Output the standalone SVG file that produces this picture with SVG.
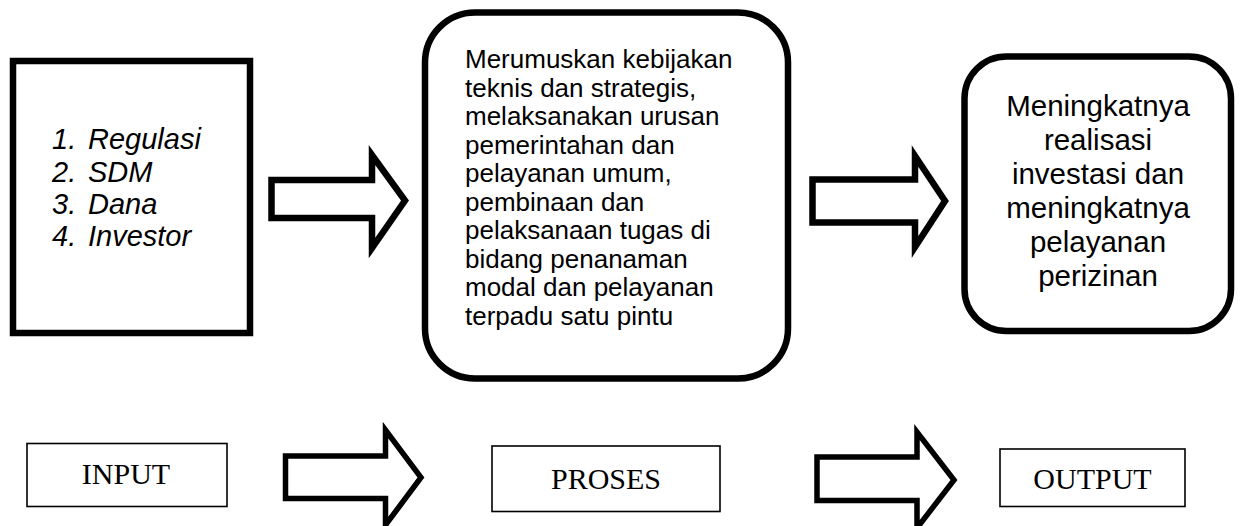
<svg xmlns="http://www.w3.org/2000/svg" width="1242" height="526" viewBox="0 0 1242 526">
  <style>
    .bold-box { fill: #fff; stroke: #000; stroke-width: 6.5; }
    .thin-box { fill: #fff; stroke: #000; stroke-width: 1.6; }
    .block-arrow { fill: #fff; stroke: #000; stroke-width: 6.5; stroke-linejoin: miter; stroke-miterlimit: 10; }
    .low-arrow { fill: #fff; stroke: #000; stroke-width: 5.5; stroke-linejoin: miter; stroke-miterlimit: 10; }
    .sans { font-family: "Liberation Sans", Arial, sans-serif; fill: #000; }
    .serif { font-family: "Liberation Serif", "Times New Roman", serif; fill: #000; font-size: 30px; }
  </style>

  <rect width="1242" height="526" fill="#fff"/>

  <g id="input-box">
    <rect class="bold-box" x="13" y="61" width="237" height="272"/>
    <g class="sans" font-size="29" font-style="italic">
      <text x="52" y="149">1.</text><text x="88" y="149">Regulasi</text>
      <text x="52" y="181.5">2.</text><text x="88" y="181.5">SDM</text>
      <text x="52" y="214">3.</text><text x="88" y="214">Dana</text>
      <text x="52" y="246">4.</text><text x="88" y="246">Investor</text>
    </g>
  </g>

  <g id="process-box">
    <rect class="bold-box" x="425" y="12.5" width="363" height="366" rx="50" ry="50"/>
    <g class="sans" font-size="26">
      <text x="465" y="68">Merumuskan kebijakan</text>
      <text x="465" y="96.5">teknis dan strategis,</text>
      <text x="465" y="125">melaksanakan urusan</text>
      <text x="465" y="153.5">pemerintahan dan</text>
      <text x="465" y="182">pelayanan umum,</text>
      <text x="465" y="210.5">pembinaan dan</text>
      <text x="465" y="239">pelaksanaan tugas di</text>
      <text x="465" y="267.5">bidang penanaman</text>
      <text x="465" y="296">modal dan pelayanan</text>
      <text x="465" y="324.5">terpadu satu pintu</text>
    </g>
  </g>

  <g id="output-box">
    <rect class="bold-box" x="964.5" y="56.5" width="266.5" height="274.5" rx="42" ry="42"/>
    <g class="sans" font-size="29.5" text-anchor="middle">
      <text x="1098" y="116">Meningkatnya</text>
      <text x="1098" y="150">realisasi</text>
      <text x="1098" y="184">investasi dan</text>
      <text x="1098" y="218">meningkatnya</text>
      <text x="1098" y="252">pelayanan</text>
      <text x="1098" y="286">perizinan</text>
    </g>
  </g>

  <g id="label-input">
    <rect class="thin-box" x="27" y="443.5" width="200" height="63"/>
    <text class="serif" x="126" y="483.5" text-anchor="middle">INPUT</text>
  </g>

  <g id="label-proses">
    <rect class="thin-box" x="492" y="446" width="228" height="65.5"/>
    <text class="serif" x="606" y="488.5" text-anchor="middle">PROSES</text>
  </g>

  <g id="label-output">
    <rect class="thin-box" x="1000" y="449" width="185" height="57.5"/>
    <text class="serif" x="1092.5" y="489" text-anchor="middle">OUTPUT</text>
  </g>

  <g id="connectors">
    <polygon class="block-arrow" points="271.5,180 372,180 372,155 405,200.5 372,248 372,218 271.5,218"/>
    <polygon class="block-arrow" points="812.5,179.5 915,179.5 915,156 945,201 915,247 915,222.5 812.5,222.5"/>
    <polygon class="low-arrow" points="285.5,456 385.5,456 385.5,430 421,477.5 385.5,525 385.5,498.5 285.5,498.5"/>
    <polygon class="low-arrow" points="817,457 917,457 917,432 954,480 917,528 917,500.5 817,500.5"/>
  </g>
</svg>
